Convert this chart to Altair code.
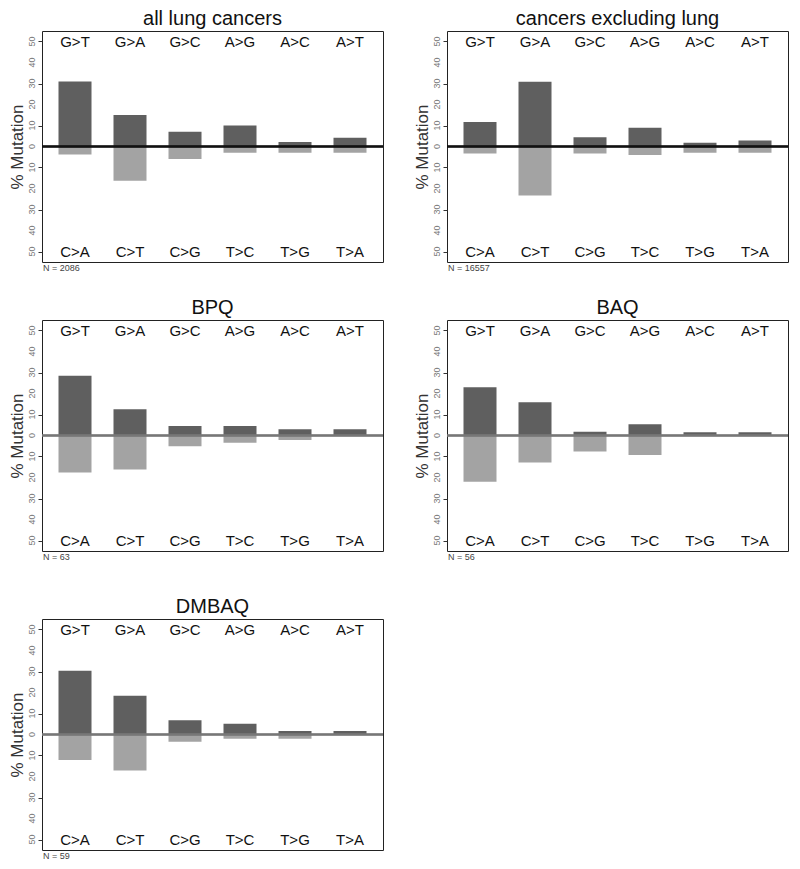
import altair as alt
import pandas as pd

top_cats = ["G>T", "G>A", "G>C", "A>G", "A>C", "A>T"]
bottom_cats = ["C>A", "C>T", "C>G", "T>C", "T>G", "T>A"]
titles = ["all lung cancers", "cancers excluding lung", "BPQ", "BAQ", "DMBAQ"]
ns = [2086, 16557, 63, 56, 59]
top_vals = [
    [31.0, 15.0, 7.0, 10.0, 2.2, 4.2],
    [11.7, 30.8, 4.4, 8.9, 1.8, 2.9],
    [28.4, 12.5, 4.5, 4.5, 3.0, 3.0],
    [23.0, 15.8, 1.8, 5.4, 1.6, 1.6],
    [30.3, 18.5, 6.8, 5.1, 1.7, 1.7],
]
bottom_vals = [
    [3.8, 16.3, 5.9, 3.0, 3.0, 3.0],
    [3.3, 23.3, 3.3, 4.1, 3.0, 3.0],
    [17.6, 16.2, 5.1, 3.5, 2.2, 0.0],
    [22.0, 12.8, 7.6, 9.3, 0.0, 0.0],
    [12.1, 17.2, 3.5, 2.0, 2.0, 0.0],
]
zero_colors = ["#111111", "#111111", "#777777", "#777777", "#777777"]
y_ticks = [-50, -40, -30, -20, -10, 0, 10, 20, 30, 40, 50]
y_tick_labels = ["50", "40", "30", "20", "10", "0", "10", "20", "30", "40", "50"]

W, H = 341, 231
FONT = "Liberation Sans"

yaxis = alt.Axis(values=y_ticks, labels=False,
                 tickSize=4, tickColor="#333333", domain=False, grid=False,
                 title="% Mutation", titleFontSize=17, titleFontWeight="normal",
                 titleColor="#333333", titlePadding=11, titleFont=FONT)
yscale = alt.Scale(domain=[-55, 55], nice=False, zero=False)
tick_df = pd.DataFrame({"v": y_ticks, "lab": y_tick_labels})


def panel(i):
    df = pd.DataFrame({
        "slot": list(range(6)),
        "top": top_cats,
        "bottom": bottom_cats,
        "up": top_vals[i],
        "down": [-v for v in bottom_vals[i]],
    })
    x = alt.X("slot:O", axis=None,
              scale=alt.Scale(paddingInner=0.4, paddingOuter=0.3))
    base = alt.Chart(df)
    up = base.mark_bar(color="#5f5f5f").encode(
        x=x, y=alt.Y("up:Q", scale=yscale, axis=yaxis), y2=alt.datum(0))
    down = base.mark_bar(color="#a3a3a3").encode(
        x=x, y=alt.Y("down:Q", scale=yscale, axis=yaxis), y2=alt.datum(0))
    zero = base.mark_rule(color=zero_colors[i], strokeWidth=1.5).encode(
        y=alt.datum(0))
    ttop = base.mark_text(fontSize=15, baseline="middle", font=FONT,
                          color="#111111").encode(
        x=x, y=alt.datum(50), text="top:N")
    tbot = base.mark_text(fontSize=15, baseline="middle", font=FONT,
                          color="#111111").encode(
        x=x, y=alt.datum(-50), text="bottom:N")
    ticklabs = alt.Chart(tick_df).mark_text(
        angle=270, align="center", baseline="bottom", fontSize=9, font=FONT,
        color="#777777").encode(
        x=alt.value(-5), y=alt.Y("v:Q", scale=yscale, axis=yaxis), text="lab:N")
    ndf = pd.DataFrame({"label": ["N = " + str(ns[i])]})
    ntext = alt.Chart(ndf).mark_text(align="left", baseline="top", fontSize=9,
                                     font=FONT, color="#444444").encode(
        x=alt.value(1), y=alt.value(H + 2), text="label:N")
    return alt.layer(up, down, zero, ttop, tbot, ticklabs, ntext).properties(
        width=W, height=H,
        title=alt.TitleParams(titles[i], fontSize=20, fontWeight="normal",
                              font=FONT, color="#111111", offset=2,
                              anchor="middle"))


p = [panel(i) for i in range(5)]
chart = alt.vconcat(
    alt.vconcat(
        alt.hconcat(p[0], p[1], spacing=28),
        alt.hconcat(p[2], p[3], spacing=28),
        spacing=23,
    ),
    p[4],
    spacing=33,
).properties(padding=0, background="white").configure_view(
    stroke="#222222", strokeWidth=1)

chart.save("out.html", embed_options={"renderer": "svg", "actions": False})
